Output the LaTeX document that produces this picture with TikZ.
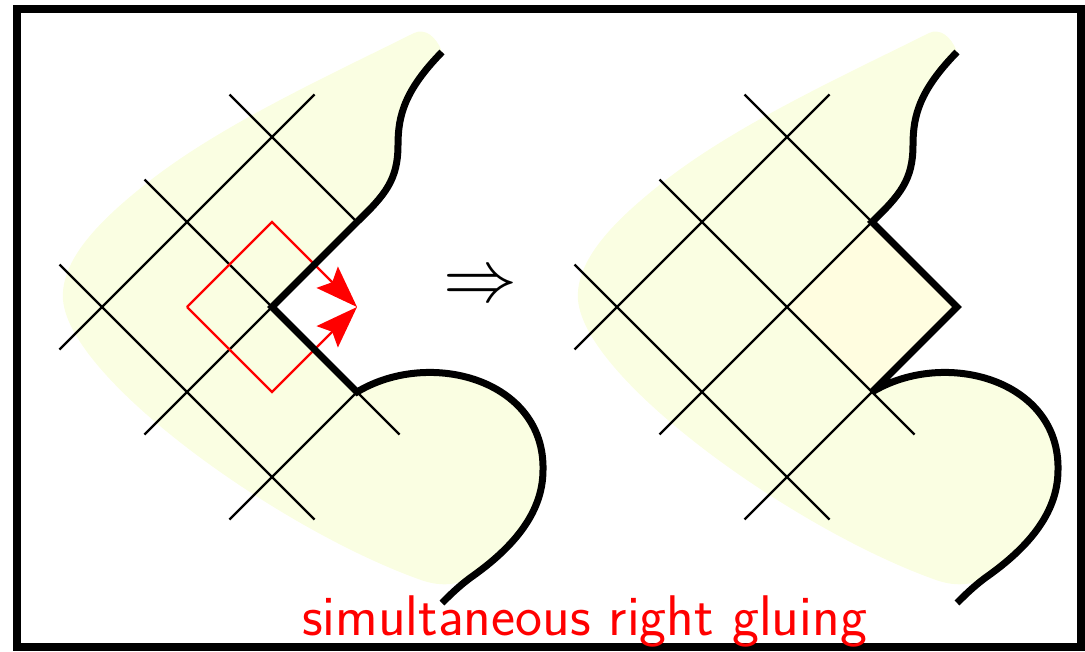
\documentclass[tikz,border=0pt]{standalone}
\usetikzlibrary{arrows.meta}
\definecolor{blobfill}{RGB}{250,254,226}
\definecolor{cellfill}{RGB}{255,253,224}
\definecolor{capred}{RGB}{255,0,0}
\tikzset{
  thin grid/.style={line width=2.4pt, line cap=butt},
  thick bd/.style={line width=7pt, line join=miter, miter limit=2},
  blob/.style={fill=blobfill, draw=none},
  redarrow/.style={draw=capred, line width=2.2pt,
    -{Stealth[length=42pt,width=30pt,inset=7pt]}},
  rotgrid/.style={x={(85pt,85pt)}, y={(85pt,-85pt)}}
}
\begin{document}
\begin{tikzpicture}[x=1pt,y=-1pt]
\useasboundingbox (0,0) rectangle (1085,651);
% frame
\draw[line width=8pt] (16.5,8.5) rectangle (1081,646.5);

% ---------- shape common to both sides ----------
\foreach \dx in {0,515}{
\begin{scope}[xshift=\dx pt]
  \fill[blob] (442,52) .. controls (405,90) and (398,115) .. (398,145)
     .. controls (398,180) and (385,195) .. (357,222)
     -- (272,307) -- (357,392)
     .. controls (430,348) and (545,380) .. (543,470)
     .. controls (543,515) and (510,550) .. (470,578)
     .. controls (455,586) and (438,586) .. (421,580)
     .. controls (280,530) and (70,380) .. (63,300)
     .. controls (60,260) and (100,220) .. (147,183)
     .. controls (220,125) and (330,75) .. (414,33)
     .. controls (425,28) and (436,36) .. (442,52) -- cycle;
\end{scope}
}

% ---------- left figure ----------
\begin{scope}[shift={(272,307)}, rotgrid]
  \coordinate (Lc) at (0,0);
  \draw[thin grid] (-1.5,-1) -- (1.5,-1);
  \draw[thin grid] (-1.5,0) -- (0,0);
  \draw[thin grid] (-1.5,1) -- (0,1);
  \draw[thin grid] (-1,-1.5) -- (-1,1.5);
  \draw[thin grid] (0,-1.5) -- (0,0);
  \draw[thin grid] (0,1) -- (0,1.5);
  \draw[thin grid] (1,-1.5) -- (1,0);
  \coordinate (dl) at (-0.5,-0.5);
  \coordinate (dt) at (0.5,-0.5);
  \coordinate (db) at (-0.5,0.5);
  \coordinate (dr) at (0.5,0.5);
  \draw[redarrow] (dl) -- (dt) -- (dr);
  \draw[redarrow] (dl) -- (db) -- (dr);
\end{scope}
\draw[thick bd] (442,52) .. controls (405,90) and (398,115) .. (398,145)
     .. controls (398,180) and (385,195) .. (357,222)
     -- (272,307) -- (357,392)
     .. controls (430,348) and (545,380) .. (543,470)
     .. controls (543,515) and (510,550) .. (470,578)
     .. controls (458,587) and (450,595) .. (442,603);

% ---------- right figure ----------
\begin{scope}[shift={(787,307)}, rotgrid]
  \fill[cellfill] (0,0) -- (1,0) -- (1,1) -- (0,1) -- cycle;
  \draw[thin grid] (-1.5,-1) -- (1.5,-1);
  \draw[thin grid] (-1.5,0) -- (1,0);
  \draw[thin grid] (-1.5,1) -- (0,1);
  \draw[thin grid] (-1,-1.5) -- (-1,1.5);
  \draw[thin grid] (0,-1.5) -- (0,1.5);
  \draw[thin grid] (1,-1.5) -- (1,0);
\end{scope}
\begin{scope}[xshift=515pt]
\draw[thick bd] (442,52) .. controls (405,90) and (398,115) .. (398,145)
     .. controls (398,180) and (385,195) .. (357,222)
     -- (442,307) -- (357,392)
     .. controls (430,348) and (545,380) .. (543,470)
     .. controls (543,515) and (510,550) .. (470,578)
     .. controls (458,587) and (450,595) .. (442,603);
\end{scope}

% ---------- texts ----------
\node[inner sep=0pt] (impl) at (480,288) {\scalebox{7.4}{$\Rightarrow$}};
\node[anchor=base, text=capred, inner sep=0pt] (cap) at (584.5,635)
  {\fontsize{57.3}{62}\selectfont\sffamily simultaneous right gluing};
\end{tikzpicture}
\end{document}
